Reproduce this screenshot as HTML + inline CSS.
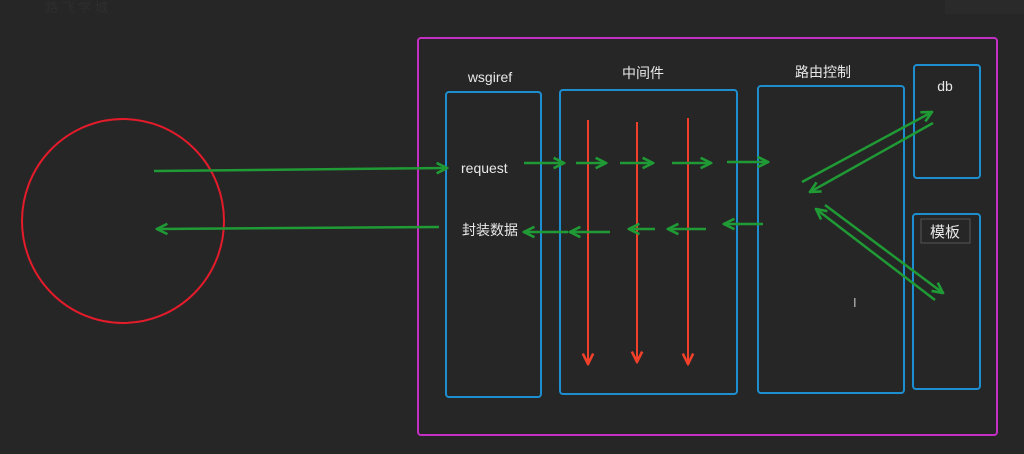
<!DOCTYPE html>
<html><head><meta charset="utf-8"><style>
html,body{margin:0;padding:0;background:#262626;width:1024px;height:454px;overflow:hidden}
svg{display:block}
text{font-family:"Liberation Sans","Noto Sans CJK SC",sans-serif;fill:#e8e8e8}
</style></head><body>
<svg width="1024" height="454" viewBox="0 0 1024 454" xmlns="http://www.w3.org/2000/svg">
<defs>
<marker id="g" viewBox="0 0 10 10" refX="9" refY="5" markerWidth="13" markerHeight="13" markerUnits="userSpaceOnUse" orient="auto"><path d="M1,1 L9,5 L1,9" fill="none" stroke="#1f9a35" stroke-width="2"/></marker>
<marker id="r" viewBox="0 0 10 10" refX="9" refY="5" markerWidth="13" markerHeight="13" markerUnits="userSpaceOnUse" orient="auto"><path d="M1,1 L9,5 L1,9" fill="none" stroke="#f0402a" stroke-width="2"/></marker>
</defs>
<rect x="945" y="0" width="79" height="14" fill="#2a2a2a"/>
<text x="45" y="12" font-size="13" style="fill:#2e2e2e">路 飞 学 城</text>
<ellipse cx="123" cy="221" rx="101" ry="102" fill="none" stroke="#e41b2a" stroke-width="2"/>
<rect x="418" y="38" width="579" height="397" rx="3" fill="none" stroke="#c42fc4" stroke-width="2"/>
<g fill="none" stroke="#1d8fd0" stroke-width="2">
<rect x="446" y="92" width="95" height="305" rx="3"/>
<rect x="560" y="90" width="177" height="304" rx="3"/>
<rect x="758" y="86" width="146" height="307" rx="3"/>
<rect x="914" y="65" width="66" height="113" rx="3"/>
<rect x="913" y="214" width="67" height="175" rx="3"/>
</g>
<rect x="921" y="219" width="49" height="24" fill="none" stroke="#555" stroke-width="1"/>
<text x="490" y="82" font-size="14" text-anchor="middle">wsgiref</text>
<text x="643" y="78" font-size="14" text-anchor="middle">中间件</text>
<text x="823" y="77" font-size="14" text-anchor="middle">路由控制</text>
<text x="945" y="91" font-size="14" text-anchor="middle">db</text>
<text x="945" y="237" font-size="15" text-anchor="middle">模板</text>
<text x="461" y="173" font-size="14">request</text>
<text x="462" y="235" font-size="14">封装数据</text>
<g stroke="#f0402a" stroke-width="2" marker-end="url(#r)">
<line x1="588" y1="120" x2="588" y2="364"/>
<line x1="637" y1="122" x2="637" y2="362"/>
<line x1="688" y1="118" x2="688" y2="364"/>
</g>
<g stroke="#1f9a35" stroke-width="2.5" marker-end="url(#g)" fill="none">
<line x1="154" y1="171" x2="447" y2="168"/>
<line x1="524" y1="163" x2="564" y2="163"/>
<line x1="576" y1="163" x2="606" y2="163"/>
<line x1="620" y1="163" x2="653" y2="163"/>
<line x1="672" y1="163" x2="711" y2="163"/>
<line x1="727" y1="162" x2="768" y2="162"/>
<line x1="763" y1="224" x2="724" y2="224"/>
<line x1="706" y1="229" x2="668" y2="229"/>
<line x1="655" y1="229" x2="629" y2="229"/>
<line x1="610" y1="232" x2="570" y2="232"/>
<line x1="568" y1="232" x2="524" y2="232"/>
<line x1="439" y1="227" x2="157" y2="229"/>
<line x1="802" y1="182" x2="932" y2="112"/>
<line x1="933" y1="123" x2="810" y2="192"/>
<line x1="825" y1="205" x2="943" y2="293"/>
<line x1="935" y1="300" x2="816" y2="209"/>
</g>
<text x="853" y="307" font-size="13" style="fill:#bbb">I</text>
</svg>
</body></html>
